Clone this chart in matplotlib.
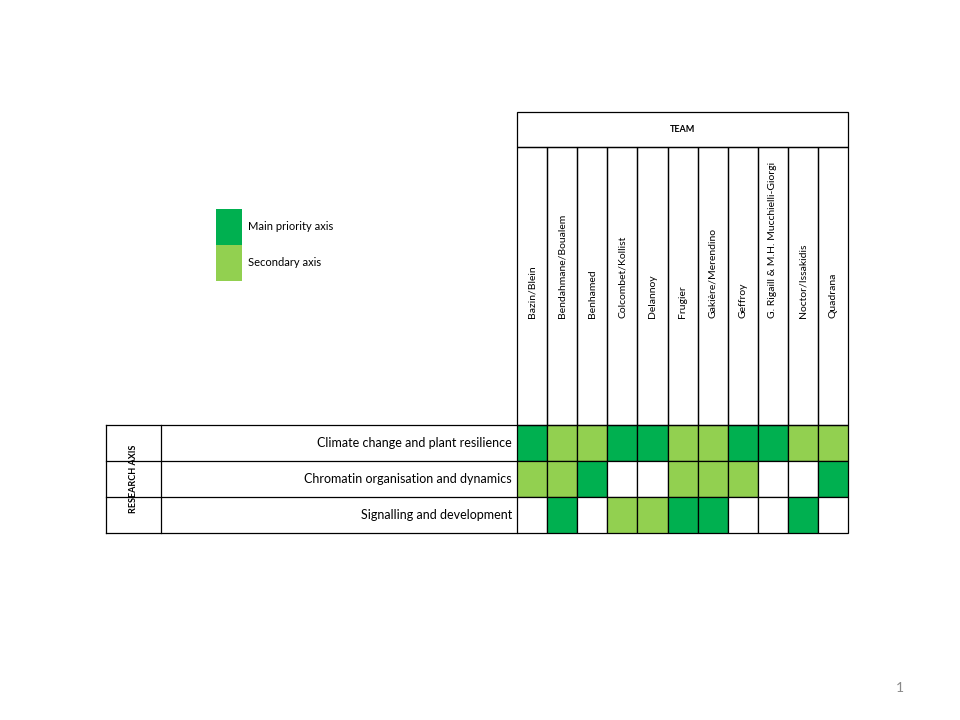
import matplotlib.pyplot as plt
from matplotlib.patches import Rectangle

teams = ["Bazin/Blein", "Bendahmane/Boualem", "Benhamed", "Colcombet/Kollist",
         "Delannoy", "Frugier", "Gakière/Merendino", "Geffroy",
         "G. Rigaill & M.H. Mucchielli-Giorgi", "Noctor/Issakidis", "Quadrana"]
axes_names = ["Climate change and plant resilience",
              "Chromatin organisation and dynamics",
              "Signalling and development"]
# 2 = main priority axis, 1 = secondary axis, 0 = none
climate = [2, 1, 1, 2, 2, 1, 1, 2, 2, 1, 1]
chromatin = [1, 1, 2, 0, 0, 1, 1, 1, 0, 0, 2]
signalling = [0, 2, 0, 1, 1, 2, 2, 0, 0, 2, 0]
values = [climate, chromatin, signalling]

COLORS = {0: "white", 1: "#92D050", 2: "#00B050"}
FONT = "Lato"

fig = plt.figure(figsize=(9.6, 7.2), dpi=100)
ax = fig.add_axes([0, 0, 1, 1])
ax.set_xlim(0, 960)
ax.set_ylim(720, 0)
ax.axis("off")

x0, cw = 517, 30.1
y_team, y_names, y0, rh = 112, 147, 425, 36
x_left, x_lab = 106, 161
x1 = x0 + cw * len(teams)
lw = 0.9

# cells
for r, row in enumerate(values):
    for c, v in enumerate(row):
        ax.add_patch(Rectangle((x0 + c * cw, y0 + r * rh), cw, rh,
                               facecolor=COLORS[v], edgecolor="black", lw=lw))
    ax.text(x_lab + (x0 - x_lab) - 5, y0 + r * rh + rh / 2, axes_names[r],
            ha="right", va="center", fontsize=9, family=FONT)

# header
ax.add_patch(Rectangle((x0, y_team), x1 - x0, y_names - y_team,
                       fill=False, edgecolor="black", lw=lw))
ax.text((x0 + x1) / 2, (y_team + y_names) / 2, "TEAM", ha="center", va="center",
        fontsize=6.5, fontweight="bold", family=FONT)
for c, name in enumerate(teams):
    ax.add_patch(Rectangle((x0 + c * cw, y_names), cw, y0 - y_names,
                           fill=False, edgecolor="black", lw=lw))
    ax.text(x0 + c * cw + cw / 2, 318, name, rotation=90, ha="center",
            va="bottom", fontsize=7.5, family=FONT)

# left frame
y_end = y0 + rh * len(values)
for r in range(len(values) + 1):
    ax.plot([x_left, x0], [y0 + r * rh] * 2, color="black", lw=lw)
for xv in (x_left, x_lab):
    ax.plot([xv, xv], [y0, y_end], color="black", lw=lw)
ax.text((x_left + x_lab) / 2, (y0 + y_end) / 2, "RESEARCH AXIS", rotation=90,
        ha="center", va="center", fontsize=6.5, fontweight="bold", family=FONT)

# legend
for i, (lab, k) in enumerate([("Main priority axis", 2), ("Secondary axis", 1)]):
    ax.add_patch(Rectangle((216, 209 + i * 36), 26, 36, facecolor=COLORS[k], lw=0))
    ax.text(248, 227 + i * 36, lab, ha="left", va="center", fontsize=8, family=FONT)

ax.text(900, 688, "1", ha="center", va="center", fontsize=10, color="#888888", family=FONT)

fig.savefig("out.png", dpi=100)
